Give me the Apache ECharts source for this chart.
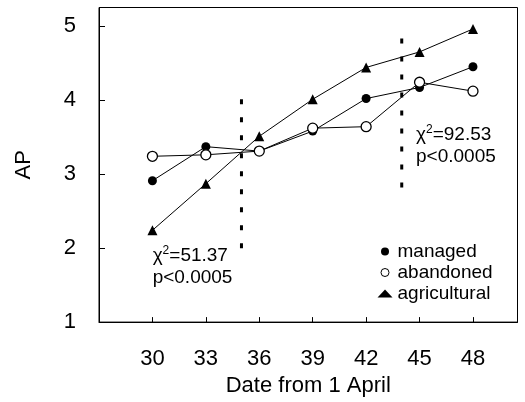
<!DOCTYPE html>
<html>
<head>
<meta charset="utf-8">
<script src="https://cdn.jsdelivr.net/npm/echarts@6/dist/echarts.min.js"></script>
<style>html,body{margin:0;padding:0;background:#fff;}#c{width:525px;height:402px;}</style>
</head>
<body>
<div id="c"></div>
<script>
const days = [30, 33, 36, 39, 42, 45, 48];
const managed = [2.91, 3.37, 3.31, 3.58, 4.02, 4.17, 4.45];
const abandoned = [3.24, 3.26, 3.31, 3.62, 3.64, 4.24, 4.12];
const agricultural = [2.24, 2.87, 3.51, 4.01, 4.44, 4.65, 4.96];
const seriesNames = ['managed', 'abandoned', 'agricultural'];
const cutDays = [35, 44];
const cutTop = [4.01, 4.83];
const cutBottom = [1.97, 2.77];
const annotX = [30.04, 44.83];
const annotY = [2.04, 3.67];
const chiValues = ['51.37', '92.53'];
const pText = ['p<0.0005', 'p<0.0005'];

const FONT = 'Liberation Sans, Arial, sans-serif';
const INK = '#000';
const zip = (xs, ys) => xs.map((x, i) => [x, ys[i]]);

function lineSeries(name, vals, symbol, size, fill) {
  return {
    name: name, type: 'line', data: zip(days, vals),
    symbol: symbol, symbolSize: size,
    lineStyle: {color: '#000', width: 1},
    itemStyle: {color: fill, borderColor: '#000', borderWidth: fill === '#fff' ? 1.3 : 0},
    z: 3
  };
}

const series = [
  lineSeries(seriesNames[0], managed, 'circle', 9, '#000'),
  lineSeries(seriesNames[1], abandoned, 'circle', 10, '#fff'),
  lineSeries(seriesNames[2], agricultural, 'triangle', 10, '#000')
];

cutDays.forEach((d, i) => {
  series.push({
    type: 'line', data: [[d, cutTop[i]], [d, cutBottom[i]]], symbol: 'none',
    lineStyle: {color: '#000', width: 3, type: [5, 13]}, z: 2, silent: true
  });
});

series.push({
  type: 'scatter', symbolSize: 1, itemStyle: {color: 'transparent', opacity: 1}, silent: true,
  data: annotX.map((x, i) => [x, annotY[i]]),
  label: {
    show: true, position: [0, 0], align: 'left', verticalAlign: 'top', opacity: 1,
    formatter: p => '{c|χ}{s|2}{n|=' + chiValues[p.dataIndex] + '}\n{n|' + pText[p.dataIndex] + '}',
    rich: {
      c: {fontFamily: FONT, fontSize: 19, color: INK, lineHeight: 22},
      s: {fontFamily: FONT, fontSize: 12, color: INK, verticalAlign: 'top', lineHeight: 12},
      n: {fontFamily: FONT, fontSize: 19, color: INK, lineHeight: 22}
    }
  }
});

const chart = echarts.init(document.getElementById('c'), null, {renderer: 'canvas'});
chart.setOption({
  animation: false,
  backgroundColor: '#fff',
  grid: {left: 99, right: 7.5, top: 7.5, bottom: 79.5, show: true, borderColor: '#000', borderWidth: 1},
  legend: {
    orient: 'vertical', left: 372.5, top: 236, itemWidth: 15, itemHeight: 8, itemGap: 0,
    textStyle: {fontFamily: FONT, fontSize: 19, color: INK, lineHeight: 21},
    data: [
      {name: seriesNames[0], icon: 'circle', itemStyle: {color: '#000', borderWidth: 0}},
      {name: seriesNames[1], icon: 'circle', itemStyle: {color: '#fff', borderColor: '#000', borderWidth: 1}},
      {name: seriesNames[2], icon: 'triangle', itemStyle: {color: '#000', borderWidth: 0}}
    ]
  },
  xAxis: {
    type: 'value', min: 27, max: 50.5, interval: 3,
    name: 'Date from 1 April', nameLocation: 'middle', nameGap: 52,
    nameTextStyle: {fontFamily: FONT, fontSize: 22, color: INK},
    axisLine: {lineStyle: {color: '#000', width: 1}},
    axisTick: {inside: true, length: 5, lineStyle: {color: '#000'}},
    axisLabel: {showMinLabel: false, showMaxLabel: false, margin: 26, fontFamily: FONT, fontSize: 22, color: INK},
    splitLine: {show: false}
  },
  yAxis: {
    type: 'value', min: 1, max: 5.25, interval: 1,
    name: 'AP', nameLocation: 'middle', nameGap: 64,
    nameTextStyle: {fontFamily: FONT, fontSize: 22, color: INK},
    axisLine: {lineStyle: {color: '#000', width: 1}},
    axisTick: {inside: true, length: 6, lineStyle: {color: '#000'}},
    axisLabel: {showMaxLabel: false, margin: 23, fontFamily: FONT, fontSize: 22, color: INK},
    splitLine: {show: false}
  },
  series: series
});
</script>
</body>
</html>
